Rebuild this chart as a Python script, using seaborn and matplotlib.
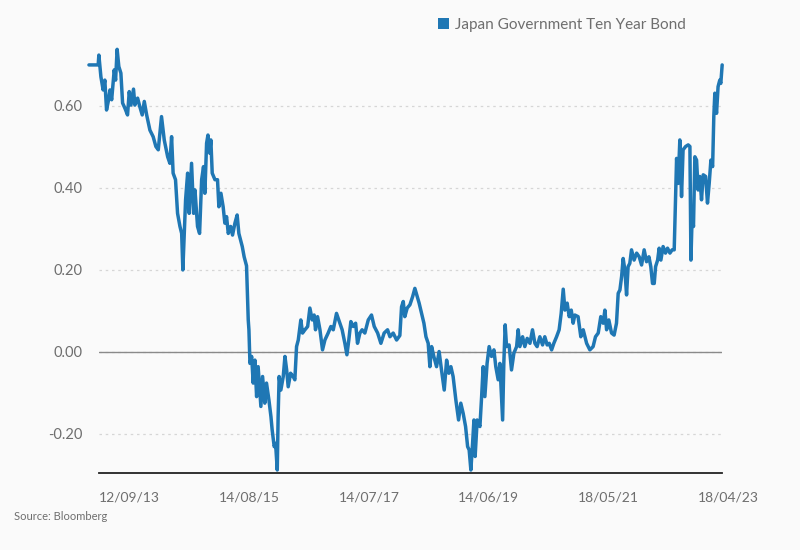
import pandas as pd
import matplotlib
import matplotlib.pyplot as plt
import matplotlib.dates as mdates
from matplotlib.patches import Patch
import seaborn as sns

matplotlib.use('Agg')

# Japan 10 year government bond yield (%)
# x values are days since 12/09/13, the first labelled date
start_date = pd.Timestamp('2013-09-12')

day_offsets = [
    -60, -6, -2, 10, 23, 33, 43, 53, 63, 73,
    88, 96, 105, 115, 127, 137, 151, 166, 176, 186,
    201, 209, 225, 238, 252, 264, 278, 297, 316, 332,
    346, 365, 381, 401, 414, 424, 433, 447, 459, 473,
    483, 490, 498, 506, 518, 527, 541, 553, 561, 576,
    588, 600, 611, 619, 629, 637, 647, 654, 662, 678,
    693, 701, 713, 726, 736, 746, 756, 770, 781, 795,
    808, 818, 828, 838, 849, 863, 873, 877, 883, 893,
    902, 912, 922, 931, 947, 957, 970, 980, 994, 1006,
    1013, 1025, 1033, 1043, 1048, 1054, 1064, 1078, 1088, 1098,
    1107, 1121, 1136, 1146, 1156, 1166, 1181, 1191, 1205, 1221,
    1234, 1248, 1259, 1267, 1279, 1293, 1308, 1322, 1341, 1357,
    1371, 1390, 1410, 1423, 1439, 1451, 1462, 1474, 1488, 1502,
    1513, 1527, 1540, 1556, 1576, 1595, 1611, 1631, 1650, 1669,
    1689, 1703, 1722, 1742, 1761, 1771, 1781, 1790, 1804, 1820,
    1836, 1849, 1863, 1874, 1888, 1902, 1914, 1927, 1937, 1947,
    1960, 1976, 1991, 2005, 2021, 2035, 2048, 2060, 2073, 2089,
    2105, 2118, 2132, 2146, 2158, 2167, 2177, 2187, 2195, 2202,
    2214, 2230, 2240, 2249, 2259, 2272, 2284, 2298, 2312, 2323,
    2337, 2347, 2363, 2370, 2378, 2386, 2401, 2415, 2429, 2445,
    2454, 2464, 2480, 2493, 2507, 2523, 2538, 2552, 2565, 2581,
    2597, 2610, 2624, 2636, 2650, 2663, 2679, 2694, 2706, 2718,
    2728, 2741, 2753, 2765, 2776, 2786, 2805, 2821, 2835, 2855,
    2874, 2893, 2907, 2923, 2938, 2952, 2962, 2972, 2985, 3001,
    3016, 3030, 3040, 3050, 3060, 3069, 3079, 3089, 3098, 3108,
    3118, 3133, 3148, 3163, 3177, 3192, 3206, 3220, 3231, 3241,
    3251, 3259, 3271, 3280, 3290, 3303, 3317, 3329, 3343, 3356,
    3368, 3376, 3382, 3391, 3401, 3411, 3420, 3435, 3450, 3460,
    3466, 3473, 3481, 3489, 3499, 3508, 3518, 3528, 3538, 3552,
    3563, 3573, 3583, 3593, 3600, 3606, 3616, 3625, 3635, 3641, 3649,
]

yields = [
    0.700, 0.700, 0.724, 0.671, 0.639, 0.663, 0.590, 0.611, 0.639, 0.615,
    0.688, 0.663, 0.738, 0.696, 0.680, 0.607, 0.594, 0.578, 0.635, 0.602,
    0.641, 0.602, 0.619, 0.598, 0.578, 0.611, 0.578, 0.541, 0.525, 0.501,
    0.493, 0.574, 0.517, 0.476, 0.460, 0.525, 0.436, 0.420, 0.338, 0.306,
    0.289, 0.200, 0.289, 0.371, 0.436, 0.338, 0.460, 0.338, 0.395, 0.306,
    0.289, 0.420, 0.452, 0.387, 0.509, 0.529, 0.485, 0.517, 0.436, 0.420,
    0.420, 0.354, 0.387, 0.354, 0.314, 0.330, 0.289, 0.306, 0.285, 0.314,
    0.334, 0.289, 0.273, 0.257, 0.232, 0.210, 0.078, 0.054, -0.028, -0.011,
    -0.076, -0.020, -0.109, -0.036, -0.133, -0.060, -0.125, -0.076, -0.117, -0.158,
    -0.190, -0.231, -0.223, -0.288, -0.158, -0.060, -0.093, -0.060, -0.011, -0.044,
    -0.085, -0.052, -0.060, -0.068, 0.013, 0.029, 0.078, 0.046, 0.054, 0.062,
    0.107, 0.078, 0.090, 0.054, 0.086, 0.054, 0.005, 0.029, 0.046, 0.062,
    0.054, 0.094, 0.070, 0.054, 0.021, -0.007, 0.029, 0.074, 0.062, 0.070,
    0.021, 0.046, 0.054, 0.046, 0.078, 0.090, 0.062, 0.046, 0.021, 0.046,
    0.054, 0.037, 0.046, 0.029, 0.040, 0.110, 0.123, 0.086, 0.107, 0.115,
    0.135, 0.155, 0.135, 0.119, 0.094, 0.070, 0.037, 0.021, -0.036, 0.013,
    -0.011, -0.036, 0.001, -0.044, -0.093, -0.020, -0.052, -0.036, -0.060, -0.117,
    -0.166, -0.125, -0.150, -0.182, -0.231, -0.239, -0.288, -0.223, -0.166, -0.255,
    -0.166, -0.182, -0.109, -0.036, -0.109, -0.028, 0.013, -0.011, 0.005, -0.036,
    -0.068, -0.028, -0.166, -0.028, 0.066, 0.013, 0.017, -0.044, -0.003, 0.013,
    0.054, 0.013, 0.037, 0.013, 0.033, 0.021, 0.054, 0.021, 0.013, 0.037,
    0.017, 0.037, 0.017, 0.021, 0.005, 0.021, 0.037, 0.054, 0.094, 0.153,
    0.102, 0.119, 0.086, 0.102, 0.070, 0.090, 0.086, 0.037, 0.054, 0.021,
    0.005, 0.013, 0.037, 0.046, 0.086, 0.070, 0.102, 0.054, 0.078, 0.046,
    0.041, 0.070, 0.143, 0.151, 0.184, 0.228, 0.200, 0.139, 0.208, 0.216,
    0.249, 0.224, 0.241, 0.232, 0.212, 0.249, 0.220, 0.232, 0.208, 0.167,
    0.167, 0.208, 0.224, 0.253, 0.224, 0.257, 0.241, 0.253, 0.241, 0.249,
    0.249, 0.379, 0.472, 0.411, 0.517, 0.379, 0.493, 0.501, 0.505, 0.501,
    0.224, 0.330, 0.306, 0.476, 0.468, 0.395, 0.428, 0.371, 0.432, 0.428,
    0.363, 0.411, 0.468, 0.452, 0.574, 0.631, 0.582, 0.647, 0.663, 0.655, 0.700,
]

tick_dates = ['2013-09-12', '2015-08-14', '2017-07-14',
              '2019-06-14', '2021-05-18', '2023-04-18']
y_ticks = [-0.2, 0.0, 0.2, 0.4, 0.6]
series_name = 'Japan Government Ten Year Bond'

df = pd.DataFrame({
    'date': start_date + pd.to_timedelta(day_offsets, unit='D'),
    'yield': yields,
})

sns.set_style('white')
plt.rcParams['font.family'] = ['Lato', 'DejaVu Sans']

bg = '#fafafa'
line_color = '#1f77b4'
text_color = '#6e6e6e'

fig = plt.figure(figsize=(8, 5.5), dpi=100, facecolor=bg)
ax = fig.add_axes([0.124, 0.1395, 0.7785, 0.817])
ax.set_facecolor(bg)

sns.lineplot(data=df, x='date', y='yield', color=line_color,
             linewidth=2.5, ax=ax, clip_on=False, zorder=3)

# axes limits
x_end = start_date + pd.Timedelta(days=3648)
ax.set_xlim(start_date, x_end)
ax.set_ylim(-0.296, 0.8)

# gridlines: dotted, zero line solid
ax.set_yticks(y_ticks)
ax.yaxis.grid(True, color='#d6d6d6', linestyle=(0, (2, 3)), linewidth=0.9)
ax.xaxis.grid(False)
ax.axhline(0, color='#8a8a8a', linewidth=1.0, zorder=2)
ax.set_yticklabels([f'{v:.2f}' for v in y_ticks])

ax.set_xticks(pd.to_datetime(tick_dates))
ax.xaxis.set_major_formatter(mdates.DateFormatter('%d/%m/%y'))
for lbl in ax.get_xticklabels():
    lbl.set_horizontalalignment('left')

ax.tick_params(axis='y', length=0, pad=12, labelsize=10.5, labelcolor=text_color)
ax.tick_params(axis='x', length=4, width=0.8, color='#cccccc', pad=9,
               labelsize=10, labelcolor=text_color)

for side in ['top', 'right', 'left']:
    ax.spines[side].set_visible(False)
ax.spines['bottom'].set_color('#222222')
ax.spines['bottom'].set_linewidth(1.3)

ax.set_xlabel('')
ax.set_ylabel('')

# legend with a square colour patch
handle = Patch(facecolor=line_color, edgecolor='none', label=series_name)
fig.legend(handles=[handle], loc='center left',
           bbox_to_anchor=(438 / 800, 1 - 25 / 550), frameon=False,
           handlelength=0.75, handleheight=0.75, handletextpad=0.35,
           borderpad=0, borderaxespad=0, fontsize=11, labelcolor=text_color)

fig.text(14 / 800, 1 - 517 / 550, 'Source: Bloomberg', fontsize=8,
         color=text_color, va='center', ha='left')

plt.savefig('out.png', dpi=100, facecolor=bg)
